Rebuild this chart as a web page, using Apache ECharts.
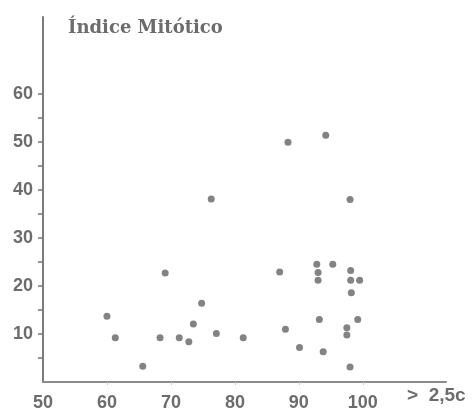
<!DOCTYPE html>
<html>
<head>
<meta charset="utf-8">
<script src="https://cdn.jsdelivr.net/npm/echarts@6/dist/echarts.min.js"></script>
<style>
  html, body { margin: 0; padding: 0; background: #ffffff; }
  #chart { width: 473px; height: 412px; }
</style>
</head>
<body>
<div id="chart"></div>
<script>
// Percentage of cells (x) against mitotic index (y)
const percentCells = [
  60.0, 61.3, 65.6, 68.3, 69.1, 71.3, 72.8, 73.5, 74.8, 76.3, 77.1,
  81.3, 87.0, 87.9, 88.3, 90.1, 92.8, 93.0, 93.0, 93.2, 93.8, 94.2,
  95.3, 98.0, 98.1, 98.1, 99.5, 98.2, 97.5, 97.5, 99.2, 98.0
];
const mitoticIndex = [
  13.7, 9.2, 3.3, 9.2, 22.7, 9.2, 8.4, 12.1, 16.4, 38.1, 10.1,
  9.2, 22.9, 11.0, 49.9, 7.2, 24.5, 22.8, 21.2, 13.0, 6.3, 51.4,
  24.5, 38.0, 23.2, 21.2, 21.2, 18.6, 11.3, 9.8, 13.0, 3.1
];
const xTickLabels = [50, 60, 70, 80, 90, 100];
const yTickLabels = [10, 20, 30, 40, 50, 60];
const yMinorTicks = [5, 10, 15, 20, 25, 30, 35, 40, 45, 50, 55, 60];

const points = percentCells.map((x, i) => [x, mitoticIndex[i]]);

const textGray = '#6c6c6c';
const axisGray = '#7a7a7a';
const labelFont = { fontFamily: 'Liberation Sans', fontWeight: 'bold', fontSize: 18, color: textGray };

const chart = echarts.init(document.getElementById('chart'), null, { renderer: 'canvas' });
chart.setOption({
  animation: false,
  backgroundColor: '#ffffff',
  title: {
    text: 'Índice Mitótico',
    left: 63,
    top: 14,
    textStyle: { fontFamily: 'DejaVu Serif', fontWeight: 'bold', fontSize: 18, color: textGray }
  },
  grid: { left: 43, right: 27, top: 17, bottom: 29 },
  xAxis: {
    type: 'value',
    min: 50,
    max: 113,
    interval: 10,
    splitLine: { show: false },
    axisLine: { show: true, lineStyle: { color: '#8c8c8c', width: 2 } },
    axisTick: { show: true, length: 3, customValues: [60, 70, 80, 90, 100], lineStyle: { color: '#c8c8c8', width: 1 } },
    axisLabel: Object.assign({ margin: 12, customValues: xTickLabels }, labelFont)
  },
  yAxis: {
    type: 'value',
    min: 0,
    max: 76,
    splitLine: { show: false },
    axisLine: { show: true, lineStyle: { color: axisGray, width: 2 } },
    axisTick: { show: true, length: 5, customValues: yMinorTicks, lineStyle: { color: axisGray, width: 1.5 } },
    axisLabel: Object.assign({ margin: 10, customValues: yTickLabels }, labelFont)
  },
  graphic: [{
    type: 'text',
    left: 407,
    top: 386,
    style: { text: '>  2,5c', font: 'bold 19px "Liberation Sans"', fill: textGray }
  }],
  series: [{
    type: 'scatter',
    data: points,
    symbol: 'circle',
    symbolSize: 7,
    itemStyle: { color: '#646464' },
    silent: true
  }]
});
</script>
</body>
</html>
